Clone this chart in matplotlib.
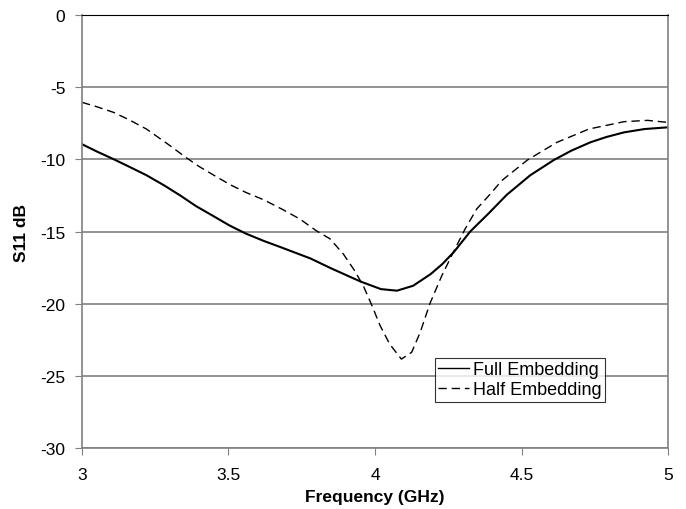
import matplotlib
matplotlib.use("Agg")
import matplotlib.pyplot as plt

plt.rcParams["font.family"] = ["Liberation Sans", "DejaVu Sans"]
plt.rcParams["axes.unicode_minus"] = False

# Frequency (GHz) and S11 (dB)
freq_full = [3.00, 3.05, 3.107, 3.16, 3.22, 3.28, 3.335, 3.39, 3.45, 3.505, 3.56,
             3.62, 3.68, 3.78, 3.85, 3.95, 4.02, 4.075, 4.13, 4.19, 4.23, 4.27,
             4.325, 4.39, 4.45, 4.53, 4.61, 4.67, 4.735, 4.79, 4.85, 4.92, 5.00]
s11_full = [-8.95, -9.45, -9.98, -10.5, -11.1, -11.8, -12.5, -13.25, -13.95, -14.6,
            -15.15, -15.65, -16.1, -16.87, -17.55, -18.46, -18.99, -19.1, -18.76,
            -17.95, -17.25, -16.4, -15.0, -13.7, -12.45, -11.1, -10.05, -9.4,
            -8.82, -8.45, -8.13, -7.9, -7.78]

freq_half = [3.00, 3.05, 3.107, 3.16, 3.22, 3.29, 3.357, 3.40, 3.45, 3.505, 3.56,
             3.62, 3.687, 3.744, 3.80, 3.846, 3.892, 3.93, 3.96, 3.99, 4.017, 4.05,
             4.09, 4.125, 4.154, 4.188, 4.228, 4.267, 4.307, 4.347, 4.398, 4.432,
             4.52, 4.62, 4.73, 4.85, 4.93, 5.00]
s11_half = [-6.05, -6.35, -6.74, -7.25, -7.9, -8.9, -9.9, -10.5, -11.1, -11.75,
            -12.3, -12.8, -13.5, -14.14, -14.95, -15.5, -16.56, -17.7, -18.76,
            -20.15, -21.5, -22.8, -23.84, -23.37, -22.0, -19.96, -18.06, -16.45,
            -14.84, -13.44, -12.3, -11.48, -10.05, -8.83, -7.9, -7.39, -7.3, -7.44]

fig = plt.figure(figsize=(6.86, 5.1), dpi=100)
ax = fig.add_axes([0.1195, 0.1196, 0.8543, 0.849])

ax.plot(freq_full, s11_full, color="black", linewidth=1.5, label="Full Embedding")
ax.plot(freq_half, s11_half, color="black", linewidth=1.0, dashes=(6, 3.5),
        label="Half Embedding")

ax.set_xlim(3, 5)
ax.set_ylim(-30, 0)
ax.set_xticks([3, 3.5, 4, 4.5, 5])
ax.set_xticklabels(["3", "3.5", "4", "4.5", "5"])
ax.set_yticks(range(-30, 1, 5))

ax.yaxis.grid(True, color="#808080", linewidth=1.2)
ax.set_axisbelow(True)
for side in ["left", "right", "bottom"]:
    ax.spines[side].set_color("#808080")
    ax.spines[side].set_linewidth(1.2)
ax.spines["top"].set_color("black")

ax.tick_params(axis="both", direction="out", length=5, color="#808080",
               labelsize=12.5)
ax.tick_params(axis="y", pad=7)
ax.tick_params(axis="x", pad=9)

ax.set_xlabel("Frequency (GHz)", fontsize=12.5, fontweight="bold", labelpad=5)
ax.set_ylabel("S11 dB", fontsize=12.5, fontweight="bold", labelpad=8)

leg = ax.legend(loc="lower left", bbox_to_anchor=(0.602, 0.107), fontsize=13,
                frameon=True, fancybox=False, borderpad=0.2, handlelength=1.7,
                handletextpad=0.2, labelspacing=0.15, borderaxespad=0)
leg.get_frame().set_edgecolor("black")
leg.get_frame().set_linewidth(0.8)
for line in leg.get_lines():
    line.set_linewidth(1.0)

fig.savefig("out.png", dpi=100)
